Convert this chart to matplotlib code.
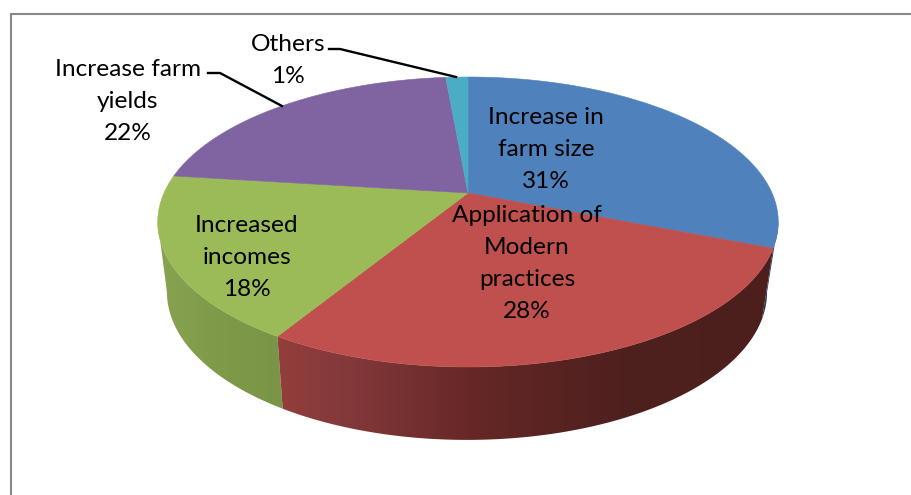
import numpy as np
import matplotlib
matplotlib.use("Agg")
import matplotlib.pyplot as plt
from matplotlib.patches import Polygon

categories = ["Increase in\nfarm size", "Application of\nModern\npractices",
              "Increased\nincomes", "Increase farm\nyields", "Others"]
shares = [31, 27.7, 18.3, 21.6, 1.4]
top_colors = ["#4F81BD", "#C0504D", "#9BBB59", "#8064A2", "#4BACC6"]
label_centers = [(546, 149.5), (527, 263.5), (247, 257.5), (128, 101.5), (288, 60.5)]

K = 0.2


def upper(a):
    x, t = np.sin(a), -np.cos(a)
    w = 1 - K * t
    return 468 + 304 * x / w, 193 + 139.2 * t / w


def lower(a):
    x, t = np.sin(a), -np.cos(a)
    w = 1 - K * t
    return 467 + 294 * x / w, 262.4 + 142 * t / w


fig = plt.figure(figsize=(9.12, 4.95), dpi=100)
ax = fig.add_axes([0, 0, 1, 1])
ax.axis("off")

# chart frame
ax.plot([11, 11, 912], [495, 14, 14], color="#878787", lw=1.5,
        solid_joinstyle="miter", zorder=1)

edges = np.cumsum([0] + shares) / sum(shares) * 2 * np.pi


def wall(a0, a1, stops, z):
    aa = np.linspace(a0, a1, 240)
    ux, uy = upper(aa)
    lx, ly = lower(aa[::-1])
    poly = Polygon(np.c_[np.r_[ux, lx], np.r_[uy, ly]], closed=True,
                   facecolor="none", edgecolor="none", transform=ax.transData)
    ax.add_patch(poly)
    xs = np.arange(0, 912)
    px = [s[0] for s in stops]
    rgb = np.array([matplotlib.colors.to_rgb(s[1]) for s in stops])
    grad = np.stack([np.interp(xs, px, rgb[:, i]) for i in range(3)], axis=-1)[None, :, :]
    im = ax.imshow(grad, extent=(0, 912, 495, 0), aspect="auto", zorder=z,
                   interpolation="bilinear")
    im.set_clip_path(poly)


# side walls, back to front; the outer ends sit on the silhouette tangent
tangent = np.arccos(-K)
wall(tangent, edges[1], [(0, "#1F3A5C"), (912, "#1F3A5C")], 2)
wall(edges[2], 2 * np.pi - tangent, [(160, "#88A350"), (215, "#7F9A49"), (280, "#7B9547")], 2)
wall(edges[1], edges[2], [(275, "#933F3C"), (350, "#83383A"), (470, "#662826"),
                          (620, "#4E201E"), (780, "#4C1F1D")], 3)

# top faces
for i, c in enumerate(top_colors):
    aa = np.linspace(edges[i], edges[i + 1], 160)
    X, Y = upper(aa)
    ax.fill(np.r_[468, X], np.r_[193, Y], facecolor=c, edgecolor=c, lw=0.4, zorder=4)

# leader lines
ax.plot([329, 340, 456], [49, 49, 77], color="black", lw=1.7, zorder=5)
ax.plot([208, 220, 282], [73, 73, 106], color="black", lw=1.7, zorder=5)

# labels
for name, v, (x, y) in zip(categories, shares, label_centers):
    ax.text(x, y, f"{name}\n{round(v)}%", ha="center", va="center", fontsize=17.6,
            family="Lato", color="black", linespacing=1.63, zorder=6)

ax.set_xlim(0, 912)
ax.set_ylim(495, 0)
fig.savefig("out.png", dpi=100)
